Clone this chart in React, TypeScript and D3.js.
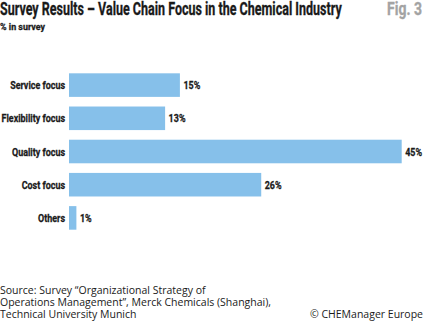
import React, { useLayoutEffect, useRef, useState } from "react";
import * as d3 from "d3";

const categories = ["Service focus", "Flexibility focus", "Quality focus", "Cost focus", "Others"];
const values = [15, 13, 45, 26, 1];
const valueLabels = ["15%", "13%", "45%", "26%", "1%"];
const title = "Survey Results \u2013 Value Chain Focus in the Chemical Industry";
const subtitle = "% in survey";
const figLabel = "Fig. 3";
const sourceLines = [
  "Source: Survey \u201cOrganizational Strategy of",
  "Operations Management\u201d, Merck Chemicals (Shanghai),",
  "Technical University Munich",
];
const copyright = "\u00a9 CHEManager Europe";

const W = 425;
const H = 325;
const boldFont = "Roboto, 'Noto Sans', sans-serif";
const regular = "'Open Sans', 'Noto Sans', Lato, sans-serif";
const LABEL_SIZE = 11.5;
const WIDEST_LABEL_PX = 63.5;

type FitProps = {
  x: number;
  y: number;
  width: number;
  size: number;
  fill: string;
  anchor?: "start" | "end";
  children: string;
};

function FitText({ x, y, width, size, fill, anchor = "start", children }: FitProps) {
  const ref = useRef<SVGTextElement>(null);
  const [s, setS] = useState(1);
  useLayoutEffect(() => {
    if (ref.current) {
      const w = ref.current.getComputedTextLength();
      if (w > 0) setS(width / w);
    }
  }, [width, children]);
  return (
    <text
      ref={ref}
      transform={`translate(${x},${y}) scale(${s},1)`}
      textAnchor={anchor}
      fontFamily={boldFont}
      fontWeight="bold"
      fontSize={size}
      fill={fill}
      stroke={fill}
      strokeWidth={0.3}
    >
      {children}
    </text>
  );
}

export default function App() {
  const measureRef = useRef<SVGTextElement>(null);
  const [k, setK] = useState(0.75);

  useLayoutEffect(() => {
    if (measureRef.current) {
      const w = measureRef.current.getComputedTextLength();
      if (w > 0) setK(WIDEST_LABEL_PX / w);
    }
  }, []);

  const x = d3.scaleLinear().domain([0, 45]).range([69, 401.7]);
  const y = d3
    .scaleBand<string>()
    .domain(categories)
    .range([68.5, 234.5])
    .paddingInner(0.29)
    .paddingOuter(0.145);

  const widest = categories.reduce((a, b) => (b.length > a.length ? b : a), "");

  return (
    <svg
      width={W}
      height={H}
      style={{ position: "absolute", left: 0, top: 0, background: "#fff" }}
    >
      <rect x={0} y={0} width={W} height={H} fill="#fff" />
      <text
        ref={measureRef}
        x={0}
        y={-50}
        fontFamily={boldFont}
        fontWeight="bold"
        fontSize={LABEL_SIZE}
        visibility="hidden"
      >
        {widest}
      </text>
      <FitText x={0} y={15} width={342} size={17.5} fill="#1a1a1a">
        {title}
      </FitText>
      <FitText x={387} y={15} width={35} size={17.5} fill="#a3a3a3">
        {figLabel}
      </FitText>
      <FitText x={0} y={29.5} width={45} size={9.5} fill="#1a1a1a">
        {subtitle}
      </FitText>

      {categories.map((c, i) => {
        const by = y(c)!;
        const bh = y.bandwidth();
        const ty = by + bh / 2 + 4;
        return (
          <g key={c}>
            <rect x={x(0)} y={by} width={x(values[i]) - x(0)} height={bh} fill="#86c0ea" />
            <text
              transform={`translate(65,${ty}) scale(${k},1)`}
              textAnchor="end"
              fontFamily={boldFont}
              fontWeight="bold"
              fontSize={LABEL_SIZE}
              fill="#1a1a1a"
              stroke="#1a1a1a"
              strokeWidth={0.3}
            >
              {c}
            </text>
            <text
              transform={`translate(${x(values[i]) + 3.5},${ty}) scale(${k},1)`}
              fontFamily={boldFont}
              fontWeight="bold"
              fontSize={LABEL_SIZE}
              fill="#1a1a1a"
              stroke="#1a1a1a"
              strokeWidth={0.3}
            >
              {valueLabels[i]}
            </text>
          </g>
        );
      })}

      {sourceLines.map((l, i) => (
        <text
          key={i}
          x={0}
          y={294.3 + i * 11.7}
          fontFamily={regular}
          fontSize={10.5}
          fill="#1a1a1a"
        >
          {l}
        </text>
      ))}
      <text
        x={423}
        y={317.7}
        textAnchor="end"
        fontFamily={regular}
        fontSize={10.5}
        fill="#1a1a1a"
      >
        {copyright}
      </text>
    </svg>
  );
}
